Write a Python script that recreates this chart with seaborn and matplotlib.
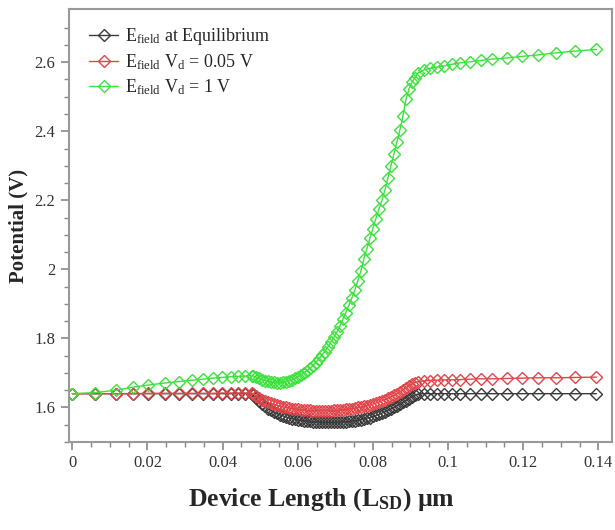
import numpy as np
import pandas as pd
import matplotlib
matplotlib.use("Agg")
import matplotlib.pyplot as plt
import seaborn as sns

# ================= DATOS =================
# malla: gruesa en los extremos, fina en la zona del canal
x_left = [0.0, 0.006, 0.0115, 0.0162, 0.0202, 0.0247, 0.0284, 0.0318,
          0.0347, 0.0374, 0.0398, 0.0421, 0.0442, 0.046, 0.0477]
x_mid = [0.0480, 0.0488, 0.0496, 0.0504, 0.0512, 0.0520, 0.0528, 0.0536,
         0.0544, 0.0552, 0.0560, 0.0568, 0.0576, 0.0584, 0.0592, 0.0600,
         0.0608, 0.0616, 0.0624, 0.0632, 0.0640, 0.0648, 0.0656, 0.0664,
         0.0672, 0.0680, 0.0688, 0.0696, 0.0704, 0.0712, 0.0720, 0.0728,
         0.0736, 0.0744, 0.0752, 0.0760, 0.0768, 0.0776, 0.0784, 0.0792,
         0.0800, 0.0808, 0.0816, 0.0824, 0.0832, 0.0840, 0.0848, 0.0856,
         0.0864, 0.0872, 0.0880, 0.0888, 0.0896, 0.0904, 0.0912, 0.0920]
x_right = [0.0936, 0.0952, 0.0971, 0.0989, 0.101, 0.1032, 0.1058, 0.1087,
           0.1118, 0.1156, 0.1198, 0.124, 0.1288, 0.1338, 0.1395]

# E_field en equilibrio
eq_left = [1.640, 1.640, 1.640, 1.640, 1.640, 1.640, 1.640, 1.640,
           1.640, 1.640, 1.640, 1.640, 1.640, 1.640, 1.639]
eq_mid = [1.636, 1.627, 1.618, 1.610, 1.603, 1.597, 1.592, 1.587,
          1.583, 1.579, 1.576, 1.573, 1.570, 1.568, 1.566, 1.564,
          1.563, 1.562, 1.561, 1.560, 1.559, 1.558, 1.558, 1.557,
          1.557, 1.557, 1.557, 1.557, 1.557, 1.558, 1.558, 1.559,
          1.560, 1.561, 1.562, 1.563, 1.565, 1.567, 1.569, 1.571,
          1.574, 1.577, 1.580, 1.584, 1.588, 1.592, 1.596, 1.600,
          1.605, 1.610, 1.615, 1.620, 1.626, 1.631, 1.636, 1.639]
eq_right = [1.640, 1.640, 1.640, 1.640, 1.640, 1.640, 1.640, 1.640,
            1.640, 1.640, 1.640, 1.640, 1.640, 1.640, 1.640]

# E_field con Vd = 0.05 V
v005_left = [1.640, 1.640, 1.640, 1.640, 1.641, 1.641, 1.641, 1.641,
             1.641, 1.641, 1.642, 1.642, 1.642, 1.642, 1.642]
v005_mid = [1.640, 1.634, 1.628, 1.623, 1.619, 1.615, 1.612, 1.609,
            1.606, 1.604, 1.602, 1.600, 1.599, 1.597, 1.596, 1.595,
            1.594, 1.593, 1.592, 1.592, 1.591, 1.591, 1.591, 1.591,
            1.591, 1.591, 1.591, 1.592, 1.592, 1.593, 1.594, 1.595,
            1.596, 1.597, 1.598, 1.600, 1.601, 1.603, 1.605, 1.607,
            1.610, 1.613, 1.616, 1.619, 1.623, 1.627, 1.631, 1.635,
            1.640, 1.645, 1.651, 1.657, 1.663, 1.668, 1.672, 1.675]
v005_right = [1.677, 1.678, 1.679, 1.680, 1.680, 1.681, 1.682, 1.683,
              1.683, 1.684, 1.685, 1.686, 1.686, 1.687, 1.688]

# E_field con Vd = 1 V
v1_left = [1.640, 1.643, 1.650, 1.659, 1.665, 1.671, 1.675, 1.679,
           1.682, 1.685, 1.687, 1.689, 1.690, 1.691, 1.692]
v1_mid = [1.692, 1.688, 1.684, 1.681, 1.678, 1.676, 1.674, 1.673,
          1.672, 1.672, 1.673, 1.675, 1.677, 1.680, 1.684, 1.689,
          1.694, 1.700, 1.706, 1.713, 1.721, 1.730, 1.740, 1.751,
          1.762, 1.775, 1.789, 1.803, 1.818, 1.836, 1.855, 1.875,
          1.896, 1.917, 1.940, 1.967, 1.995, 2.030, 2.060, 2.090,
          2.118, 2.147, 2.174, 2.200, 2.230, 2.265, 2.300, 2.335,
          2.370, 2.404, 2.445, 2.492, 2.522, 2.542, 2.555, 2.568]
v1_right = [2.578, 2.582, 2.586, 2.589, 2.594, 2.598, 2.601, 2.605,
            2.609, 2.612, 2.617, 2.621, 2.627, 2.632, 2.637]

labels = [r"E$_{\mathrm{field}}$ at Equilibrium",
          r"E$_{\mathrm{field}}$ V$_{\mathrm{d}}$ = 0.05 V",
          r"E$_{\mathrm{field}}$ V$_{\mathrm{d}}$ = 1 V"]
colores = ["#3a3a3a", "#e0454a", "#3ee03e"]

x_all = x_left + x_mid + x_right
series = [eq_left + eq_mid + eq_right,
          v005_left + v005_mid + v005_right,
          v1_left + v1_mid + v1_right]

# ================= GRÁFICO =================
sns.set_style("white")
plt.rcParams['font.family'] = ['Liberation Serif', 'DejaVu Serif']
plt.rcParams['mathtext.fontset'] = 'custom'
plt.rcParams['mathtext.rm'] = 'Liberation Serif'
plt.rcParams['mathtext.it'] = 'Liberation Serif:italic'
plt.rcParams['mathtext.bf'] = 'Liberation Serif:bold'

fig = plt.figure(figsize=(6.15, 5.3), dpi=100)
ax = fig.add_axes([0.1115, 0.166, 0.884, 0.817])

for ys, lab, col in zip(series, labels, colores):
    df = pd.DataFrame({'x': x_all, 'y': ys})
    sns.lineplot(data=df, x='x', y='y', ax=ax, label=lab, color=col,
                 linewidth=1.0, marker='D', markersize=6.3,
                 markerfacecolor='none', markeredgecolor=col,
                 markeredgewidth=1.0, estimator=None, sort=False)

ax.set_xlim(-0.001, 0.1437)
ax.set_ylim(1.5, 2.754)
ax.set_xticks([0, 0.02, 0.04, 0.06, 0.08, 0.1, 0.12, 0.14])
ax.set_xticklabels(['0', '0.02', '0.04', '0.06', '0.08', '0.1', '0.12', '0.14'])
ax.set_yticks([1.6, 1.8, 2.0, 2.2, 2.4, 2.6])
ax.set_yticklabels(['1.6', '1.8', '2', '2.2', '2.4', '2.6'])
ax.set_xticks(np.arange(0, 0.1426, 0.005), minor=True)
ax.set_yticks(np.arange(1.5, 2.75, 0.05), minor=True)

ax.tick_params(which='major', direction='out', length=6, width=1.2,
               color='#888888', labelsize=12, labelcolor='#333333',
               bottom=True, left=True)
ax.tick_params(which='minor', direction='out', length=3.5, width=1.0,
               color='#888888', bottom=True, left=True)
for sp in ax.spines.values():
    sp.set_color('#999999')
    sp.set_linewidth(1.5)

ax.set_xlabel(r"Device Length (L$_{\mathbf{SD}}$) µm", fontsize=18.5,
              fontweight='bold', labelpad=11)
ax.xaxis.label.set_x(0.466)
ax.set_ylabel("Potential (V)", fontsize=15, fontweight='bold', labelpad=4)

ax.legend(loc='upper left', frameon=False, fontsize=13, handlelength=1.6,
          handletextpad=0.4, labelspacing=0.3, borderaxespad=0.3,
          bbox_to_anchor=(0.015, 0.99))

fig.savefig('out.png', dpi=100)
